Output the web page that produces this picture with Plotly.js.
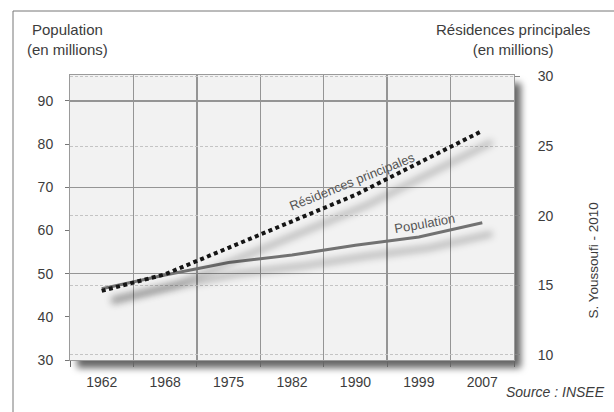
<!DOCTYPE html>
<html><head><meta charset="utf-8">
<script src="https://cdn.plot.ly/plotly-3.0.1.min.js"></script>
<style>html,body{margin:0;padding:0;background:#fff;}</style>
</head><body>
<div id="chart" style="width:614px;height:412px;"></div>
<script>
// ---- data ----
const years = ['1962', '1968', '1975', '1982', '1990', '1999', '2007'];
const population = [46.5, 49.7, 52.6, 54.3, 56.6, 58.5, 61.8];      // millions (left axis)
const residences = [14.6, 15.8, 17.7, 19.6, 21.5, 23.8, 26.1];      // millions (right axis)
const leftTicks = [30, 40, 50, 60, 70, 80, 90];
const leftGridTicks = [50, 70, 90];
const rightTicks = [10, 15, 20, 25, 30];

// ---- geometry helpers (plot area in pixels) ----
const W = 614, H = 412, L = 70, R = 100, T = 75, B = 52;
const PW = W - L - R, PH = H - T - B;
const px = v => (v - L) / PW;
const py = v => 1 - (v - T) / PH;

const FONT = '"Liberation Sans", Arial, sans-serif';
const TXT = '#3c3c3c';

const data = [
  { x: years, y: population, yaxis: 'y3', mode: 'none', hoverinfo: 'skip', showlegend: false },
  { x: years, y: population, yaxis: 'y', mode: 'lines', name: 'Population',
    line: { color: '#727272', width: 3 }, showlegend: false },
  { x: years, y: residences, yaxis: 'y2', mode: 'lines', name: 'Résidences principales',
    line: { color: '#151515', width: 4, dash: '4px,3.4px' }, showlegend: false }
];

const layout = {
  width: W, height: H,
  margin: { l: L, r: R, t: T, b: B, pad: 0 },
  paper_bgcolor: '#fff', plot_bgcolor: '#f2f2f2',
  font: { family: FONT, size: 14, color: TXT },
  showlegend: false,
  xaxis: {
    type: 'category', tickson: 'boundaries', range: [-0.5, 6.5],
    showgrid: true, gridcolor: '#959595', gridwidth: 1.5,
    ticks: 'outside', ticklen: 6, tickcolor: '#666', tickwidth: 1,
    showline: true, mirror: true, linecolor: '#9a9a9a', linewidth: 1,
    tickfont: { family: FONT, size: 14, color: TXT }, ticklabelstandoff: 9,
    zeroline: false
  },
  yaxis: {
    range: [30, 96.02], tickvals: leftTicks, showgrid: false,
    ticks: 'outside', ticklen: 4, tickcolor: '#777',
    showline: true, mirror: true, linecolor: '#9a9a9a', linewidth: 1,
    tickfont: { family: FONT, size: 14, color: TXT }, ticklabelstandoff: 9,
    zeroline: false
  },
  yaxis3: {
    overlaying: 'y', range: [30, 96.02], tickvals: leftGridTicks,
    showticklabels: false, ticks: '', showgrid: true, gridcolor: '#959595', gridwidth: 1.5,
    zeroline: false, showline: false
  },
  yaxis2: {
    overlaying: 'y', side: 'right', range: [9.64, 30.11], tickvals: rightTicks,
    showgrid: true, gridcolor: '#c4c4c4', gridwidth: 1, griddash: '3px,2px',
    ticks: 'outside', ticklen: 5, tickcolor: '#888',
    tickfont: { family: FONT, size: 14, color: TXT }, ticklabelstandoff: 15,
    zeroline: false, showline: false
  },
  shapes: [
    { type: 'line', xref: 'paper', yref: 'paper', x0: px(13), x1: px(13), y0: py(11), y1: py(420),
      line: { color: '#777', width: 1 } },
    { type: 'line', xref: 'paper', yref: 'paper', x0: px(13), x1: px(620), y0: py(11), y1: py(11),
      line: { color: '#777', width: 1 } }
  ],
  annotations: [
    { xref: 'paper', yref: 'paper', x: px(67), y: py(39), text: 'Population<br>(en millions)',
      showarrow: false, font: { family: FONT, size: 15, color: TXT }, xanchor: 'center', yanchor: 'middle' },
    { xref: 'paper', yref: 'paper', x: px(513), y: py(39), text: 'Résidences principales<br>(en millions)',
      showarrow: false, font: { family: FONT, size: 15, color: TXT }, xanchor: 'center', yanchor: 'middle' },
    { xref: 'x', yref: 'y', x: 3.95, y: 71.4, text: 'Résidences principales', textangle: -22,
      showarrow: false, font: { family: FONT, size: 13, color: '#555' } },
    { xref: 'x', yref: 'y', x: 5.09, y: 61.6, text: 'Population', textangle: -10,
      showarrow: false, font: { family: FONT, size: 13, color: '#555' } },
    { xref: 'paper', yref: 'paper', x: px(602), y: py(321), text: 'S. Youssoufi - 2010', textangle: -90,
      showarrow: false, font: { family: FONT, size: 13.5, color: TXT } },
    { xref: 'paper', yref: 'paper', x: px(607), y: py(402), text: '<i>Source : INSEE</i>', xanchor: 'right',
      showarrow: false, font: { family: FONT, size: 14, color: TXT } }
  ]
};

Plotly.newPlot('chart', data, layout, { staticPlot: true, displayModeBar: false }).then(gd => {
  const NS = 'http://www.w3.org/2000/svg';
  const svg = gd.querySelector('.main-svg');
  let defs = svg.querySelector('defs');
  if (!defs) { defs = document.createElementNS(NS, 'defs'); svg.insertBefore(defs, svg.firstChild); }
  // plot-area drop shadow
  const f1 = document.createElementNS(NS, 'filter');
  f1.setAttribute('id', 'bgShadow');
  f1.setAttribute('x', '-0.1'); f1.setAttribute('y', '-0.1');
  f1.setAttribute('width', '1.3'); f1.setAttribute('height', '1.3');
  const ds = document.createElementNS(NS, 'feDropShadow');
  ds.setAttribute('dx', '7'); ds.setAttribute('dy', '8'); ds.setAttribute('stdDeviation', '3.5');
  ds.setAttribute('flood-color', '#000'); ds.setAttribute('flood-opacity', '0.6');
  f1.appendChild(ds); defs.appendChild(f1);
  // line blur
  const f2 = document.createElementNS(NS, 'filter');
  f2.setAttribute('id', 'lineBlur');
  f2.setAttribute('x', '-0.3'); f2.setAttribute('y', '-0.6');
  f2.setAttribute('width', '1.6'); f2.setAttribute('height', '2.2');
  const gb = document.createElementNS(NS, 'feGaussianBlur');
  gb.setAttribute('stdDeviation', '3.5');
  f2.appendChild(gb); defs.appendChild(f2);

  const bg = svg.querySelector('.bglayer rect.bg') || svg.querySelector('rect.bg');
  if (bg) bg.setAttribute('filter', 'url(#bgShadow)');

  svg.querySelectorAll('.scatterlayer .trace path.js-line').forEach(p => {
    const c = p.cloneNode(false);
    c.removeAttribute('class');
    c.style.stroke = '#000';
    c.style.strokeOpacity = '0.24';
    c.style.strokeWidth = '6px';
    c.style.strokeDasharray = 'none';
    c.setAttribute('filter', 'url(#lineBlur)');
    c.setAttribute('transform', 'translate(10,11)');
    p.parentNode.insertBefore(c, p.parentNode.firstChild);
  });
});
</script>
</body></html>
